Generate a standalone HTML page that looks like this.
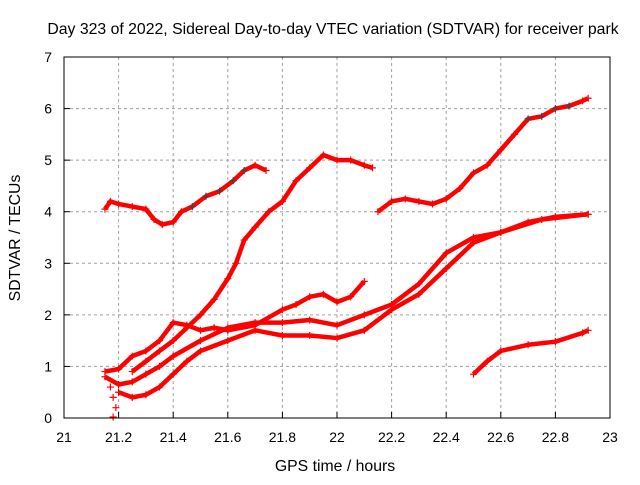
<!DOCTYPE html>
<html><head><meta charset="utf-8"><style>
body{margin:0;background:#fff}
svg text{font-family:"Liberation Sans",sans-serif;font-size:14px;fill:#000}
svg text.big{font-size:15.8px}
</style></head><body>
<svg id="c" width="640" height="480" xmlns="http://www.w3.org/2000/svg">
<text class="big" x="333" y="34" text-anchor="middle">Day 323 of 2022, Sidereal Day-to-day VTEC variation (SDTVAR) for receiver park</text>
<text class="big" x="335" y="471" text-anchor="middle">GPS time / hours</text>
<text class="big" transform="translate(20,238) rotate(-90)" text-anchor="middle">SDTVAR / TECUs</text>
<g id="grid"></g><g id="marks"></g>
<rect x="64" y="57" width="546" height="361" fill="none" stroke="#000"/>
</svg>
<script>
const xTicks=[21,21.2,21.4,21.6,21.8,22,22.2,22.4,22.6,22.8,23];
const yTicks=[0,1,2,3,4,5,6,7];
const s1=[[21.15,4.05],[21.17,4.2],[21.2,4.15],[21.25,4.1],[21.3,4.05],[21.33,3.85],[21.36,3.75],[21.4,3.8],[21.43,4.0],[21.47,4.1],[21.52,4.3],[21.57,4.4],[21.62,4.6],[21.66,4.8],[21.7,4.9],[21.74,4.8]];
const s2=[[21.25,0.9],[21.3,1.1],[21.35,1.3],[21.4,1.5],[21.45,1.75],[21.5,2.0],[21.55,2.3],[21.6,2.7],[21.63,3.0],[21.66,3.45],[21.7,3.7],[21.75,4.0],[21.8,4.2],[21.85,4.6],[21.9,4.85],[21.95,5.1],[22.0,5.0],[22.05,5.0],[22.1,4.9],[22.13,4.85]];
const s3=[[21.15,0.9],[21.2,0.95],[21.25,1.2],[21.3,1.3],[21.35,1.5],[21.4,1.85],[21.45,1.8],[21.5,1.7],[21.55,1.75],[21.6,1.7],[21.7,1.8],[21.8,2.1],[21.85,2.2],[21.9,2.35],[21.95,2.4],[22.0,2.25],[22.05,2.35],[22.1,2.65]];
const s4=[[22.15,4.0],[22.2,4.2],[22.25,4.25],[22.3,4.2],[22.35,4.15],[22.4,4.25],[22.45,4.45],[22.5,4.75],[22.55,4.9],[22.6,5.2],[22.65,5.5],[22.7,5.8],[22.75,5.85],[22.8,6.0],[22.85,6.05],[22.9,6.15],[22.92,6.2]];
const s5=[[22.5,0.85],[22.55,1.1],[22.6,1.3],[22.7,1.42],[22.8,1.48],[22.9,1.65],[22.92,1.7]];
const s6=[[21.15,0.8],[21.2,0.65],[21.25,0.7],[21.3,0.85],[21.35,1.0],[21.4,1.2],[21.5,1.5],[21.6,1.75],[21.7,1.85],[21.8,1.85],[21.9,1.9],[22.0,1.8],[22.1,2.0],[22.2,2.2],[22.3,2.6],[22.4,3.2],[22.5,3.5],[22.6,3.6],[22.7,3.8],[22.8,3.9],[22.92,3.95]];
const s7=[[21.2,0.5],[21.25,0.4],[21.3,0.45],[21.35,0.6],[21.4,0.85],[21.45,1.1],[21.5,1.3],[21.6,1.5],[21.7,1.7],[21.8,1.6],[21.9,1.6],[22.0,1.55],[22.1,1.7],[22.2,2.1],[22.3,2.4],[22.4,2.9],[22.5,3.4],[22.6,3.6],[22.75,3.85],[22.92,3.95]];
const s8=[[21.17,0.6],[21.18,0.4],[21.19,0.2],[21.18,0.02]];
const series=[s1,s2,s3,s4,s5,s6,s7];
const X=v=>64+(v-21)*273, Y=v=>418-v*51.57;
const NS='http://www.w3.org/2000/svg';
const g=document.getElementById('grid'), m=document.getElementById('marks');
function mk(t,a,p){const e=document.createElementNS(NS,t);for(const k in a)e.setAttribute(k,a[k]);p.appendChild(e);return e;}
xTicks.forEach((t,i)=>{const x=X(t);
 if(i>0&&i<xTicks.length-1){const l=mk('line',{x1:x,x2:x,y1:57,y2:418,stroke:'#a0a0a0','stroke-dasharray':'3,3'},g);}
 const tk=mk('line',{x1:x,x2:x,y1:418,y2:412,stroke:'#000'},g);
 const tx=mk('text',{x:x,y:442,'text-anchor':'middle'},g);tx.textContent=String(t);});
yTicks.forEach((t,i)=>{const y=Y(t);
 if(i>0&&i<yTicks.length-1){const l=mk('line',{x1:64,x2:610,y1:y,y2:y,stroke:'#a0a0a0','stroke-dasharray':'3,3'},g);}
 const tk=mk('line',{x1:64,x2:70,y1:y,y2:y,stroke:'#000'},g);
 const tx=mk('text',{x:52,y:y+5,'text-anchor':'end'},g);tx.textContent=String(t);});
function plus(x,y,c){const pt=mk('path',{d:`M${x-3.5},${y}h7M${x},${y-3.5}v7`,stroke:c,'stroke-width':1.2},m);
 
 }
series.forEach((s,si)=>{
 const pl=mk('polyline',{points:s.map(p=>X(p[0])+','+Y(p[1])).join(' '),fill:'none',stroke:'#f00','stroke-width':4.5,'stroke-linejoin':'round'},m);
 
 
 s.forEach((p,pi)=>{const c=(si===0&&pi>8&&pi<14)||(si===3&&pi>10&&pi<15)?'#444':'#f00';plus(X(p[0]),Y(p[1]),c);});
});
s8.forEach(p=>plus(X(p[0]),Y(p[1]),'#f00'));
</script>
</body></html>
